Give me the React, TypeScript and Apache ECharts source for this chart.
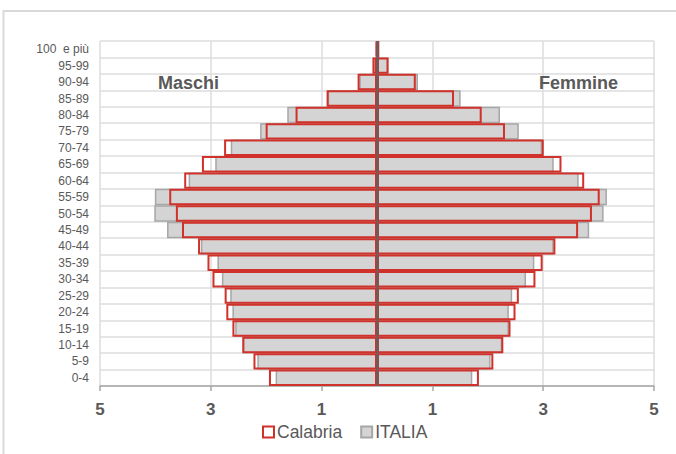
import React, { useEffect, useRef } from "react";
import * as echarts from "echarts";

const categories = ["0-4","5-9","10-14","15-19","20-24","25-29","30-34","35-39","40-44","45-49","50-54","55-59","60-64","65-69","70-74","75-79","80-84","85-89","90-94","95-99","100  e più"];
const calabriaM = [1.95,2.23,2.43,2.61,2.72,2.75,2.97,3.06,3.23,3.52,3.63,3.75,3.48,3.16,2.76,2.01,1.47,0.91,0.35,0.08,0.02];
const calabriaF = [1.84,2.10,2.28,2.41,2.50,2.56,2.86,2.99,3.22,3.63,3.88,4.02,3.74,3.33,3.01,2.31,1.89,1.39,0.70,0.21,0.04];
const italiaM = [1.83,2.16,2.43,2.56,2.61,2.65,2.80,2.88,3.18,3.79,4.02,4.01,3.40,2.92,2.64,2.11,1.62,0.89,0.32,0.08,0.02];
const italiaF = [1.72,2.05,2.26,2.38,2.38,2.44,2.69,2.84,3.19,3.83,4.09,4.15,3.64,3.19,2.98,2.56,2.22,1.51,0.74,0.20,0.04];
const xTicks = { min: -5, max: 5, interval: 2 };

const RED = "#d0312a";
const GRAYFILL = "#d4d4d4";
const GRAYBORDER = "#a6a6a6";
const TEXT = "#595959";
const NARROW = "'Liberation Sans Narrow', 'Liberation Sans', Arial, sans-serif";

export default function App() {
  const ref = useRef<HTMLDivElement>(null);
  useEffect(() => {
    if (!ref.current) return;
    const chart = echarts.init(ref.current, null, { renderer: "svg" });
    const grayStyle = { color: GRAYFILL, borderColor: GRAYBORDER, borderWidth: 1.5 };
    const redStyle = { color: "rgba(255,255,255,0)", borderColor: RED, borderWidth: 2 };
    chart.setOption({
      animation: false,
      backgroundColor: "#ffffff",
      grid: { left: 100, right: 22, top: 41, bottom: 68, containLabel: false },
      legend: {
        data: ["Calabria", "ITALIA"],
        bottom: 8,
        left: 257,
        icon: "rect",
        itemWidth: 11,
        itemHeight: 11,
        itemGap: 18,
        textStyle: { color: TEXT, fontSize: 17.5, fontFamily: NARROW, padding: [0, 0, 0, -2] },
      },
      xAxis: {
        type: "value",
        min: xTicks.min,
        max: xTicks.max,
        interval: xTicks.interval,
        axisLine: { show: true, lineStyle: { color: GRAYBORDER, width: 1.5 } },
        axisTick: { show: true, length: 5, lineStyle: { color: GRAYBORDER, width: 1.5 } },
        axisLabel: {
          formatter: (v: number) => String(Math.abs(v)),
          color: TEXT,
          fontSize: 17,
          fontWeight: "bold",
          fontFamily: "'Liberation Sans', Arial, sans-serif",
          margin: 15,
        },
        splitLine: { show: true, lineStyle: { color: "#dcdcdc", width: 1.5 } },
      },
      yAxis: {
        type: "category",
        data: categories,
        boundaryGap: true,
        axisLine: { show: false },
        axisTick: { show: false },
        axisLabel: { color: TEXT, fontSize: 12, fontFamily: NARROW, margin: 11 },
        splitLine: { show: true, interval: 0, lineStyle: { color: "#dcdcdc", width: 1.5 } },
      },
      series: [
        {
          name: "ITALIA", type: "bar", data: italiaM.map((v) => -v),
          barCategoryGap: 0, barGap: "-100%", itemStyle: grayStyle,
        },
        {
          name: "ITALIA", type: "bar", data: italiaF,
          barCategoryGap: 0, barGap: "-100%", itemStyle: grayStyle,
        },
        {
          name: "Calabria", type: "bar", data: calabriaM.map((v) => -v),
          barCategoryGap: 0, barGap: "-100%", itemStyle: redStyle,
        },
        {
          name: "Calabria", type: "bar", data: calabriaF,
          barCategoryGap: 0, barGap: "-100%", itemStyle: redStyle,
          markLine: {
            silent: true,
            symbol: "none",
            label: { show: false },
            lineStyle: { color: "#6e5b5b", width: 2.5, type: "solid" },
            data: [{ xAxis: 0 }],
          },
        },
      ],
      graphic: [
        {
          type: "polyline",
          shape: { points: [[676, 11], [3.5, 11], [3.5, 454]] },
          style: { stroke: "#d9d9d9", lineWidth: 2, fill: "none" },
          silent: true,
        },
        {
          type: "text", left: 158, top: 74, z: 100,
          style: { text: "Maschi", fill: TEXT, font: "bold 18px 'Liberation Sans', Arial, sans-serif" },
        },
        {
          type: "text", left: 539, top: 74, z: 100,
          style: { text: "Femmine", fill: TEXT, font: "bold 18px 'Liberation Sans', Arial, sans-serif" },
        },
      ],
    });
    return () => chart.dispose();
  }, []);
  return <div ref={ref} style={{ position: "absolute", left: 0, top: 0, width: 676, height: 454 }} />;
}
